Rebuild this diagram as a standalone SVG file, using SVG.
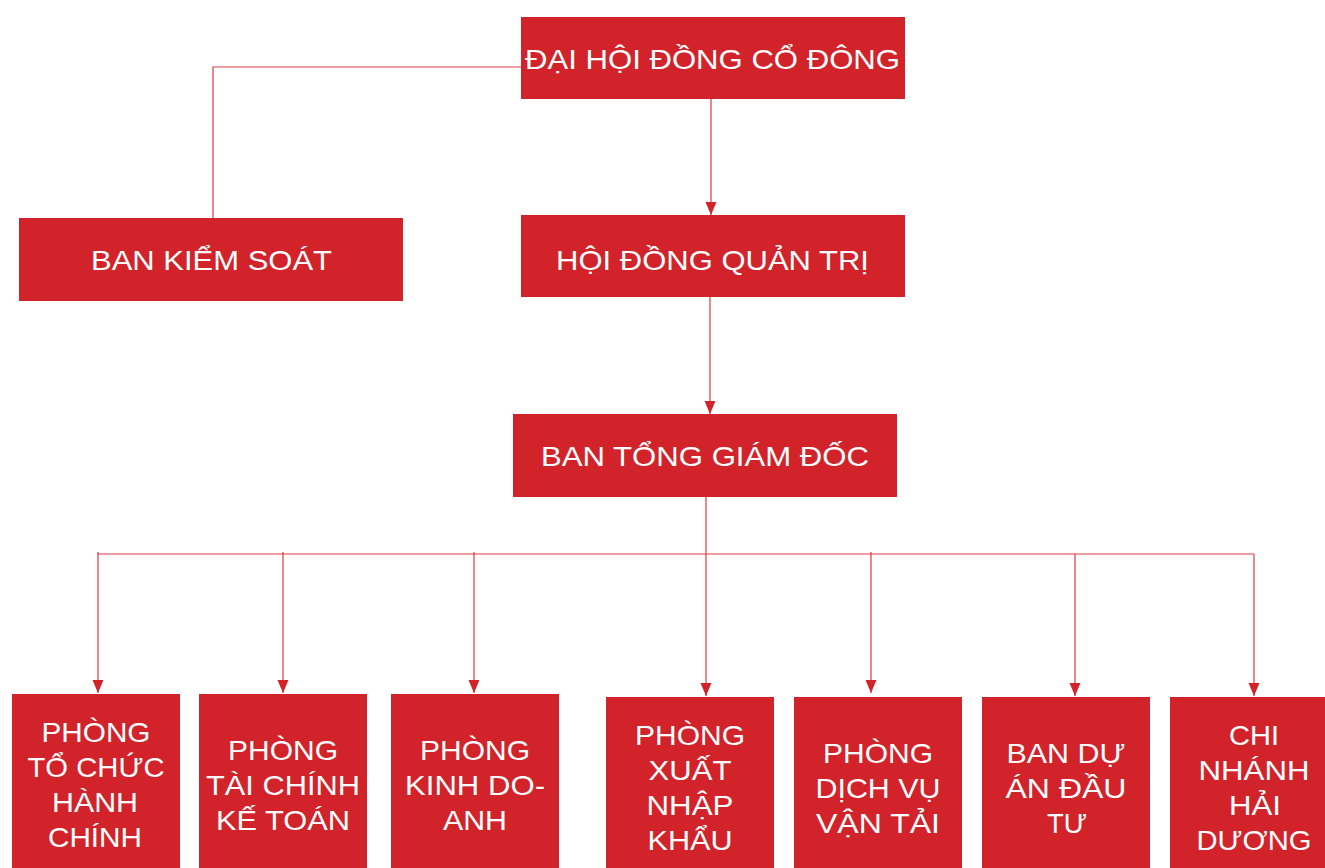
<svg xmlns="http://www.w3.org/2000/svg" width="1325" height="868" viewBox="0 0 1325 868">
<style>
.box{fill:#d2232a}
.t{fill:#ffffff;font-family:"Liberation Sans","DejaVu Sans",sans-serif;font-size:28px;text-anchor:middle}
.c{fill:none;stroke:#dd3a40;stroke-width:1.2}
</style>
<defs>
<marker id="arr" markerUnits="userSpaceOnUse" markerWidth="14" markerHeight="12" refX="13" refY="5.5" orient="auto">
<path d="M0,0 L13,5.5 L0,11 z" fill="#d2232a"/>
</marker>
</defs>
<rect width="1325" height="868" fill="#ffffff"/>
<g id="connectors">
<polyline class="c" points="521,67 213,67 213,218"/>
<line class="c" x1="711" y1="99" x2="711" y2="215" marker-end="url(#arr)"/>
<line class="c" x1="710" y1="297" x2="710" y2="414" marker-end="url(#arr)"/>
<line class="c" x1="706" y1="496" x2="706" y2="696" marker-end="url(#arr)"/>
<line class="c" x1="98" y1="554" x2="1254" y2="554"/>
<line class="c" x1="98" y1="552" x2="98" y2="693" marker-end="url(#arr)"/>
<line class="c" x1="283" y1="552" x2="283" y2="693" marker-end="url(#arr)"/>
<line class="c" x1="474" y1="552" x2="474" y2="693" marker-end="url(#arr)"/>
<line class="c" x1="871" y1="552" x2="871" y2="693" marker-end="url(#arr)"/>
<line class="c" x1="1075" y1="554" x2="1075" y2="696" marker-end="url(#arr)"/>
<line class="c" x1="1254" y1="554" x2="1254" y2="696" marker-end="url(#arr)"/>
</g>
<g id="dhdcd">
<rect class="box" x="521" y="17" width="384" height="82"/>
<text class="t" x="712.5" y="69" textLength="375" lengthAdjust="spacingAndGlyphs">ĐẠI HỘI ĐỒNG CỔ ĐÔNG</text>
</g>
<g id="bks">
<rect class="box" x="19" y="218" width="384" height="83"/>
<text class="t" x="211.5" y="270" textLength="241" lengthAdjust="spacingAndGlyphs">BAN KIỂM SOÁT</text>
</g>
<g id="hdqt">
<rect class="box" x="521" y="215" width="384" height="82"/>
<text class="t" x="712.5" y="270" textLength="313" lengthAdjust="spacingAndGlyphs">HỘI ĐỒNG QUẢN TRỊ</text>
</g>
<g id="btgd">
<rect class="box" x="513" y="414" width="384" height="83"/>
<text class="t" x="705" y="466" textLength="328" lengthAdjust="spacingAndGlyphs">BAN TỔNG GIÁM ĐỐC</text>
</g>
<g id="p1">
<rect class="box" x="12" y="694" width="168" height="174"/>
<text class="t" x="96" y="742" textLength="109" lengthAdjust="spacingAndGlyphs">PHÒNG</text>
<text class="t" x="96" y="777" textLength="137" lengthAdjust="spacingAndGlyphs">TỔ CHỨC</text>
<text class="t" x="95" y="812" textLength="86" lengthAdjust="spacingAndGlyphs">HÀNH</text>
<text class="t" x="95" y="847" textLength="94" lengthAdjust="spacingAndGlyphs">CHÍNH</text>
</g>
<g id="p2">
<rect class="box" x="199" y="694" width="168" height="174"/>
<text class="t" x="283" y="760" textLength="110" lengthAdjust="spacingAndGlyphs">PHÒNG</text>
<text class="t" x="283" y="795" textLength="154" lengthAdjust="spacingAndGlyphs">TÀI CHÍNH</text>
<text class="t" x="283" y="830" textLength="134" lengthAdjust="spacingAndGlyphs">KẾ TOÁN</text>
</g>
<g id="p3">
<rect class="box" x="391" y="694" width="168" height="174"/>
<text class="t" x="475" y="760" textLength="110" lengthAdjust="spacingAndGlyphs">PHÒNG</text>
<text class="t" x="475" y="795" textLength="140" lengthAdjust="spacingAndGlyphs">KINH DO-</text>
<text class="t" x="475" y="830" textLength="64" lengthAdjust="spacingAndGlyphs">ANH</text>
</g>
<g id="p4">
<rect class="box" x="606" y="697" width="168" height="171"/>
<text class="t" x="690" y="745" textLength="110" lengthAdjust="spacingAndGlyphs">PHÒNG</text>
<text class="t" x="690" y="780" textLength="83" lengthAdjust="spacingAndGlyphs">XUẤT</text>
<text class="t" x="690" y="815" textLength="87" lengthAdjust="spacingAndGlyphs">NHẬP</text>
<text class="t" x="690" y="850" textLength="85" lengthAdjust="spacingAndGlyphs">KHẨU</text>
</g>
<g id="p5">
<rect class="box" x="794" y="697" width="168" height="171"/>
<text class="t" x="878" y="763" textLength="110" lengthAdjust="spacingAndGlyphs">PHÒNG</text>
<text class="t" x="878" y="798" textLength="125" lengthAdjust="spacingAndGlyphs">DỊCH VỤ</text>
<text class="t" x="878" y="833" textLength="124" lengthAdjust="spacingAndGlyphs">VẬN TẢI</text>
</g>
<g id="p6">
<rect class="box" x="982" y="697" width="168" height="171"/>
<text class="t" x="1066" y="763" textLength="119" lengthAdjust="spacingAndGlyphs">BAN DỰ</text>
<text class="t" x="1066" y="798" textLength="121" lengthAdjust="spacingAndGlyphs">ÁN ĐẦU</text>
<text class="t" x="1067" y="833" textLength="40" lengthAdjust="spacingAndGlyphs">TƯ</text>
</g>
<g id="p7">
<rect class="box" x="1170" y="697" width="168" height="171"/>
<text class="t" x="1254" y="745" textLength="50" lengthAdjust="spacingAndGlyphs">CHI</text>
<text class="t" x="1254" y="780" textLength="111" lengthAdjust="spacingAndGlyphs">NHÁNH</text>
<text class="t" x="1255" y="815" textLength="52" lengthAdjust="spacingAndGlyphs">HẢI</text>
<text class="t" x="1254" y="850" textLength="115" lengthAdjust="spacingAndGlyphs">DƯƠNG</text>
</g>
</svg>
